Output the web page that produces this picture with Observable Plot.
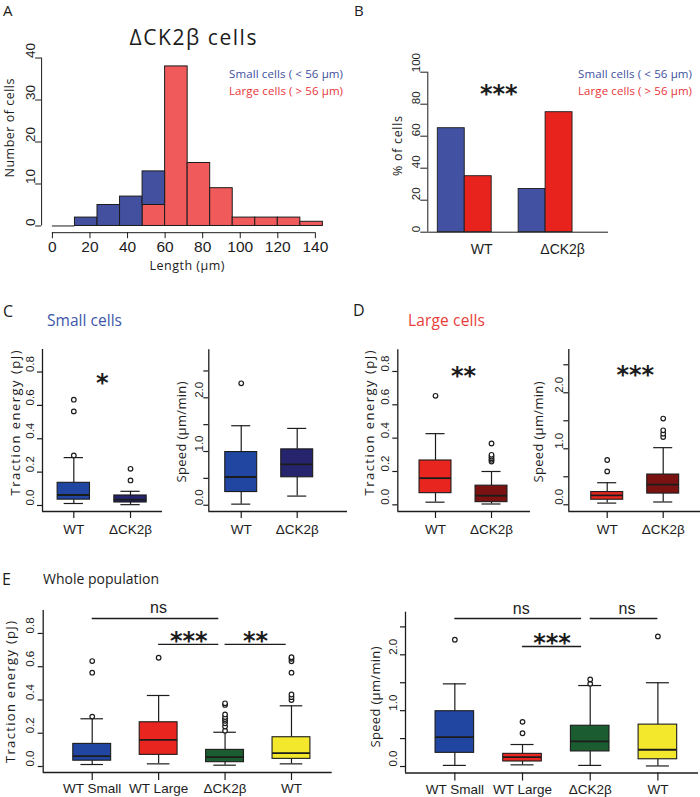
<!DOCTYPE html>
<html>
<head>
<meta charset="utf-8">
<script src="https://cdn.jsdelivr.net/npm/d3@7"></script>
<script src="https://cdn.jsdelivr.net/npm/@observablehq/plot@0.6"></script>
<style>
  html, body { margin: 0; padding: 0; background: #fff; }
  #fig { position: relative; width: 700px; height: 797px; overflow: hidden; background: #fff; }
</style>
</head>
<body>
<div id="fig"></div>
<script>
// ---------------- DATA ----------------
// Panel A: ΔCK2β cell length histogram (bin edges in µm, counts)
const lengthBinEdges = [0, 12, 24, 36, 48, 60, 72, 84, 96, 108, 120, 132, 144];
const lengthSmallCounts = [0, 2, 5, 7, 8, 0, 0, 0, 0, 0, 0, 0];
const lengthLargeCounts = [0, 0, 0, 0, 5, 38, 15, 9, 2, 2, 2, 1];
const lengthTicks = [0, 20, 40, 60, 80, 100, 120, 140];
const countTicks = [0, 10, 20, 30, 40];

// Panel B: % of small / large cells
const genotypes = ["WT", "ΔCK2β"];
const pctSmall = [65, 27];
const pctLarge = [35, 75];
const pctTicks = [0, 20, 40, 60, 80, 100];

// Box plot summaries: [low whisker, Q1, median, Q3, high whisker]
const energyWTSmall = [0.012, 0.035, 0.063, 0.136, 0.287];
const energyWTSmallOut = [0.30, 0.564, 0.634];
const energyDKSmall = [0.005, 0.018, 0.035, 0.06, 0.085];
const energyDKSmallOut = [0.15, 0.22];
const energyWTLarge = [0.016, 0.07, 0.16, 0.266, 0.427];
const energyWTLargeOut = [0.654];
const energyDKLarge = [0.005, 0.016, 0.055, 0.115, 0.20];
const energyDKLargeOut = [0.26, 0.27, 0.28, 0.29, 0.30, 0.368];
const energyDKAll = [0.008, 0.026, 0.056, 0.10, 0.206];
const energyDKAllOut = [0.215, 0.24, 0.26, 0.275, 0.285, 0.297, 0.313, 0.37, 0.38];
const energyWTAll = [0.016, 0.046, 0.08, 0.176, 0.365];
const energyWTAllOut = [0.40, 0.417, 0.433, 0.564, 0.633, 0.648, 0.657];

const speedWTSmall = [0.02, 0.245, 0.525, 0.99, 1.48];
const speedWTSmallOut = [2.27];
const speedDKSmall = [0.17, 0.52, 0.76, 1.04, 1.43];
const speedDKSmallOut = [];
const speedWTLarge = [0.03, 0.09, 0.167, 0.227, 0.394];
const speedWTLargeOut = [0.596, 0.8];
const speedDKLarge = [0.05, 0.2, 0.36, 0.54, 1.02];
const speedDKLargeOut = [1.21, 1.27, 1.33, 1.54];
const speedDKAll = [0.02, 0.27, 0.45, 0.73, 1.45];
const speedDKAllOut = [1.48, 1.56];
const speedWTAll = [0.01, 0.13, 0.30, 0.75, 1.5];
const speedWTAllOut = [2.33];

const pairCats = ["WT", "ΔCK2β"];
const wholeCats = ["WT Small", "WT Large", "ΔCK2β", "WT"];
const energyTicks = [0, 0.2, 0.4, 0.6, 0.8];
const speedTicks = [0, 0.5, 1, 1.5, 2, 2.5];
const speedLabelTicks = [0, 1, 2];

// significance annotations (category index space)
const sigC = [{x1: 1, x2: 2, y: 0.76, label: "*", line: false}];
const sigDEnergy = [{x1: 1, x2: 2, y: 0.80, label: "**", line: false}];
const sigDSpeed = [{x1: 1, x2: 2, y: 2.40, label: "***", line: false}];
const sigEEnergy = [
  {x1: 1, x2: 2.906, y: 0.89, label: "ns", line: true},
  {x1: 2, x2: 2.906, y: 0.734, label: "***", line: true},
  {x1: 3, x2: 3.92, y: 0.734, label: "**", line: true}];
const sigESpeed = [
  {x1: 1, x2: 2.872, y: 2.65, label: "ns", line: true},
  {x1: 3, x2: 4, y: 2.65, label: "ns", line: true},
  {x1: 2, x2: 2.872, y: 2.149, label: "***", line: true}];
const sigB = [{x1: 1.3, x2: 1.54, y: 89, label: "***", line: false}];

// ---------------- STYLE ----------------
const INK = "#1c1c1c";
const NUM = "Liberation Sans";
const SANS = "Open Sans";
const BLUE_A = "#4350a0", RED_A = "#f05a5b";
const BLUE_B = "#4251a1", RED_B = "#e8231e";
const C_WT_SMALL = "#2146a1", C_DK_SMALL = "#25246c";
const C_WT_LARGE = "#e8251f", C_DK_LARGE = "#7b1212";
const C_DK_ALL = "#1b5d30", C_WT_ALL = "#f3e82b";
const LEG_BLUE = "#3e4fa0", LEG_RED = "#e8343a";

const fig = document.getElementById("fig");

function place(svg, region) {
  svg.style.position = "absolute";
  svg.style.left = region[0] + "px";
  svg.style.top = region[1] + "px";
  svg.style.maxWidth = "none";
  svg.style.background = "transparent";
  svg.style.overflow = "visible";
  fig.appendChild(svg);
}
function geometry(region, frame) {
  const [L, T, R, B] = region, [fl, ft, fr, fb] = frame;
  return {width: R - L, height: B - T, marginLeft: fl - L, marginTop: ft - T, marginRight: R - fr, marginBottom: B - fb};
}
function sigMarks(sig, starDy) {
  const lines = sig.filter(d => d.line);
  const ns = sig.filter(d => d.label === "ns");
  const starsFree = sig.filter(d => d.label !== "ns" && !d.line);
  const starsLine = sig.filter(d => d.label !== "ns" && d.line);
  const starStyle = {x: d => (d.x1 + d.x2) / 2, y: "y", text: "label", lineAnchor: "middle", fontSize: 24, fontWeight: "bold", fontFamily: "DejaVu Sans", fill: INK};
  return [
    Plot.ruleY(lines, {y: "y", x1: "x1", x2: "x2", stroke: INK, strokeWidth: 1.3}),
    Plot.text(ns, {x: d => (d.x1 + d.x2) / 2, y: "y", text: "label", lineAnchor: "bottom", dx: 3, dy: -5, fontSize: 16, fontFamily: NUM, fill: INK}),
    Plot.text(starsFree, {...starStyle, dy: starDy}),
    Plot.text(starsLine, {...starStyle, dy: starDy - 8})
  ];
}

// ---------------- PANEL A ----------------
{
  const region = [0, 0, 350, 280], frame = [41.1, 50.8, 333.2, 232.2];
  const xDomain = [-5.76, 149.76], yDomain = [-1.6, 41.6];
  const bins = lengthSmallCounts.map((s, k) => ({x0: lengthBinEdges[k], x1: lengthBinEdges[k + 1], small: s, large: lengthLargeCounts[k]}));
  const plot = Plot.plot({
    ...geometry(region, frame),
    x: {domain: xDomain}, y: {domain: yDomain},
    style: {fontFamily: NUM, fontSize: "15.5px", color: INK, background: "transparent"},
    marks: [
      Plot.ruleY(bins.filter(d => d.small + d.large === 0), {x1: "x0", x2: "x1", y: 0, stroke: INK}),
      Plot.rect(bins.filter(d => d.large > 0), {x1: "x0", x2: "x1", y1: 0, y2: "large", fill: RED_A, stroke: INK}),
      Plot.rect(bins.filter(d => d.small > 0), {x1: "x0", x2: "x1", y1: "large", y2: d => d.large + d.small, fill: BLUE_A, stroke: INK}),
      Plot.ruleX([xDomain[0]], {y1: countTicks[0], y2: countTicks[countTicks.length - 1], stroke: INK}),
      Plot.axisY({ticks: countTicks, tickSize: 6, tickFormat: () => "", label: null, color: INK}),
      Plot.text(countTicks, {y: d => d, text: d => String(d), frameAnchor: "left", rotate: -90, dx: -11, fontSize: 13.5, fontFamily: NUM, fill: INK}),
      Plot.ruleY([yDomain[0]], {x1: lengthTicks[0], x2: lengthTicks[lengthTicks.length - 1], stroke: INK}),
      Plot.axisX({ticks: lengthTicks, tickSize: 6, tickPadding: 2, label: null, color: INK, fontSize: 15.5})
    ]
  });
  place(plot, region);
}

// ---------------- PANEL B ----------------
{
  const region = [350, 0, 700, 280], frame = [427.3, 71.7, 608, 231.7];
  const xDomain = [0.543, 2.778], yDomain = [0, 100];
  const bw = 1 / 3;
  const rows = genotypes.map((g, k) => ({i: k + 1, small: pctSmall[k], large: pctLarge[k]}));
  const plot = Plot.plot({
    ...geometry(region, frame),
    x: {domain: xDomain}, y: {domain: yDomain},
    style: {fontFamily: NUM, fontSize: "14px", color: INK, background: "transparent"},
    marks: [
      Plot.rect(rows, {x1: d => d.i - bw, x2: "i", y1: 0, y2: "small", fill: BLUE_B, stroke: INK, strokeWidth: 0.9}),
      Plot.rect(rows, {x1: "i", x2: d => d.i + bw, y1: 0, y2: "large", fill: RED_B, stroke: INK, strokeWidth: 0.9}),
      Plot.ruleX([xDomain[0]], {y1: pctTicks[0], y2: pctTicks[pctTicks.length - 1], stroke: INK}),
      Plot.axisY({ticks: pctTicks, tickSize: 7, tickFormat: () => "", label: null, color: INK}),
      Plot.text(pctTicks, {y: d => d, text: d => String(d), frameAnchor: "left", rotate: -90, dx: -11, fontSize: 11.5, fontFamily: NUM, fill: INK}),
      Plot.ruleY([yDomain[0]], {stroke: INK}),
      Plot.axisX({ticks: rows.map(d => d.i), tickFormat: i => genotypes[i - 1], tickSize: 0, tickPadding: 11.4, dx: 17, label: null, color: INK, fontSize: 14}),
      ...sigMarks(sigB, 5)
    ]
  });
  place(plot, region);
}

// ---------------- BOX PANELS ----------------
function boxPanel(o) {
  const n = o.cats.length;
  const rows = o.summaries.map((s, k) => ({i: k + 1, lo: s[0], q1: s[1], med: s[2], q3: s[3], hi: s[4], color: o.colors[k]}));
  const outs = o.outliers.flatMap((arr, k) => arr.map(v => ({i: k + 1, v})));
  const bw = 0.57, cw = 0.17;
  const marks = [
    Plot.ruleY([o.yDomain[0]], {stroke: INK, strokeWidth: 1.3}),
    Plot.ruleX([o.xDomain[0]], {stroke: INK, strokeWidth: 1.3}),
    Plot.axisY({ticks: o.yTicks, tickSize: 5, tickFormat: () => "", label: null, color: INK, strokeWidth: 1.2}),
    Plot.text(o.yLabelTicks, {y: d => d, text: d => d.toFixed(1), frameAnchor: "left", rotate: -90, dx: o.yLabelDx, fontSize: 11.5, fontFamily: NUM, fill: INK}),
    Plot.axisX({ticks: d3.range(1, n + 1), tickFormat: i => o.cats[i - 1], tickSize: o.xTickSize, tickPadding: o.xTickPadding, label: null, color: INK, strokeWidth: 1.2, fontSize: 13.5}),
    Plot.ruleX(rows, {x: "i", y1: "q3", y2: "hi", stroke: INK, strokeWidth: 1.2}),
    Plot.ruleX(rows, {x: "i", y1: "lo", y2: "q1", stroke: INK, strokeWidth: 1.2}),
    Plot.ruleY(rows, {y: "hi", x1: d => d.i - cw, x2: d => d.i + cw, stroke: INK, strokeWidth: 1.2}),
    Plot.ruleY(rows, {y: "lo", x1: d => d.i - cw, x2: d => d.i + cw, stroke: INK, strokeWidth: 1.2}),
    ...rows.map(r => Plot.rect([r], {x1: d => d.i - bw / 2, x2: d => d.i + bw / 2, y1: "q1", y2: "q3", fill: r.color, stroke: INK, strokeWidth: 1.1})),
    Plot.ruleY(rows, {y: "med", x1: d => d.i - bw / 2, x2: d => d.i + bw / 2, stroke: INK, strokeWidth: 1.8}),
    Plot.dot(outs, {x: "i", y: "v", r: 2.3, fill: "white", stroke: INK, strokeWidth: 1.2}),
    ...sigMarks(o.sig, 5)
  ];
  const plot = Plot.plot({
    ...geometry(o.region, o.frame),
    x: {domain: o.xDomain}, y: {domain: o.yDomain},
    style: {fontFamily: NUM, fontSize: "13.5px", color: INK, background: "transparent"},
    marks
  });
  place(plot, o.region);
}

// C: small cells
boxPanel({region: [0, 335, 175, 545], frame: [42, 349, 162, 511], xDomain: [0.448, 2.564], yDomain: [-0.036, 0.935],
  cats: pairCats, summaries: [energyWTSmall, energyDKSmall], outliers: [energyWTSmallOut, energyDKSmallOut],
  colors: [C_WT_SMALL, C_DK_SMALL], yTicks: energyTicks, yLabelTicks: energyTicks, yLabelDx: -12,
  xTickSize: 7, xTickPadding: 6.4, sig: sigC});
boxPanel({region: [175, 335, 350, 545], frame: [208.3, 349.3, 347, 511], xDomain: [0.421, 2.898], yDomain: [-0.117, 2.894],
  cats: pairCats, summaries: [speedWTSmall, speedDKSmall], outliers: [speedWTSmallOut, speedDKSmallOut],
  colors: [C_WT_SMALL, C_DK_SMALL], yTicks: speedTicks, yLabelTicks: speedLabelTicks, yLabelDx: -9,
  xTickSize: 7, xTickPadding: 6.4, sig: []});
// D: large cells
boxPanel({region: [350, 335, 540, 545], frame: [397.3, 349.3, 530, 511], xDomain: [0.327, 2.696], yDomain: [-0.04, 0.93],
  cats: pairCats, summaries: [energyWTLarge, energyDKLarge], outliers: [energyWTLargeOut, energyDKLargeOut],
  colors: [C_WT_LARGE, C_DK_LARGE], yTicks: energyTicks, yLabelTicks: energyTicks, yLabelDx: -12,
  xTickSize: 7, xTickPadding: 6.4, sig: sigDEnergy});
boxPanel({region: [540, 335, 700, 545], frame: [568.3, 349, 700, 511], xDomain: [0.314, 2.666], yDomain: [-0.12, 2.773],
  cats: pairCats, summaries: [speedWTLarge, speedDKLarge], outliers: [speedWTLargeOut, speedDKLargeOut],
  colors: [C_WT_LARGE, C_DK_LARGE], yTicks: speedTicks, yLabelTicks: speedLabelTicks, yLabelDx: -9,
  xTickSize: 7, xTickPadding: 6.4, sig: sigDSpeed});
// E: whole population
boxPanel({region: [0, 595, 350, 797], frame: [42.7, 610, 331.7, 772], xDomain: [0.262, 4.613], yDomain: [-0.036, 0.938],
  cats: wholeCats, summaries: [energyWTSmall, energyWTLarge, energyDKAll, energyWTAll],
  outliers: [energyWTSmallOut, energyWTLargeOut, energyDKAllOut, energyWTAllOut],
  colors: [C_WT_SMALL, C_WT_LARGE, C_DK_ALL, C_WT_ALL], yTicks: energyTicks, yLabelTicks: energyTicks, yLabelDx: -13,
  xTickSize: 8, xTickPadding: 3.4, sig: sigEEnergy});
boxPanel({region: [350, 595, 700, 797], frame: [405, 611.7, 698, 772.5], xDomain: [0.271, 4.60], yDomain: [-0.116, 2.763],
  cats: wholeCats, summaries: [speedWTSmall, speedWTLarge, speedDKAll, speedWTAll],
  outliers: [speedWTSmallOut, speedWTLargeOut, speedDKAllOut, speedWTAllOut],
  colors: [C_WT_SMALL, C_WT_LARGE, C_DK_ALL, C_WT_ALL], yTicks: speedTicks, yLabelTicks: speedLabelTicks, yLabelDx: -12,
  xTickSize: 8, xTickPadding: 3.4, sig: sigESpeed});

// ---------------- TEXT OVERLAY (letters, titles, legends, axis titles) ----------------
const ov = d3.select(fig).append("svg")
  .attr("width", 700).attr("height", 797)
  .style("position", "absolute").style("left", "0px").style("top", "0px").style("pointer-events", "none");
function label(t, x, y, {size = 12, color = INK, anchor = "start", len = null, rotate = 0, family = SANS, weight = 400} = {}) {
  const el = ov.append("text")
    .attr("transform", `translate(${x},${y})` + (rotate ? ` rotate(${rotate})` : ""))
    .attr("font-family", family).attr("font-size", size).attr("font-weight", weight)
    .attr("fill", color).attr("text-anchor", anchor).text(t);
  if (rotate) el.attr("dominant-baseline", "central");
  if (len) el.attr("textLength", len).attr("lengthAdjust", "spacing");
}
label("A", 3, 16, {size: 15});
label("B", 354, 16, {size: 15});
label("C", 3, 317, {size: 16});
label("D", 353, 316, {size: 16});
label("E", 2, 585, {size: 16});
label("ΔCK2β cells", 193, 45, {size: 21, anchor: "middle", len: 127});
label("Small cells ( < 56 μm)", 343, 78, {size: 11.5, color: LEG_BLUE, anchor: "end", len: 114});
label("Large cells ( > 56 μm)", 343, 95, {size: 11.5, color: LEG_RED, anchor: "end", len: 114});
label("Small cells ( < 56 μm)", 692, 78, {size: 11.5, color: LEG_BLUE, anchor: "end", len: 114});
label("Large cells ( > 56 μm)", 692, 95, {size: 11.5, color: LEG_RED, anchor: "end", len: 114});
label("Number of cells", 9, 128, {size: 12.5, rotate: -90, anchor: "middle", len: 99});
label("Length (μm)", 187, 270, {size: 12.5, anchor: "middle", len: 75});
label("% of cells", 397, 146, {size: 12.5, rotate: -90, anchor: "middle", len: 60});
label("Small cells", 47, 326, {size: 15.5, color: "#3b57a8", len: 75});
label("Large cells", 408, 326, {size: 15.5, color: "#e73d3b", len: 77});
label("Whole population", 43, 584, {size: 14, len: 116});
label("Traction energy (pJ)", 15, 423, {size: 13, rotate: -90, anchor: "middle", len: 145});
label("Speed (μm/min)", 181, 432, {size: 13, rotate: -90, anchor: "middle", len: 101});
label("Traction energy (pJ)", 369, 423, {size: 13, rotate: -90, anchor: "middle", len: 145});
label("Speed (μm/min)", 538, 432, {size: 13, rotate: -90, anchor: "middle", len: 101});
label("Traction energy (pJ)", 10, 692, {size: 13, rotate: -90, anchor: "middle", len: 142});
label("Speed (μm/min)", 375, 697, {size: 13, rotate: -90, anchor: "middle", len: 101});
</script>
</body>
</html>
